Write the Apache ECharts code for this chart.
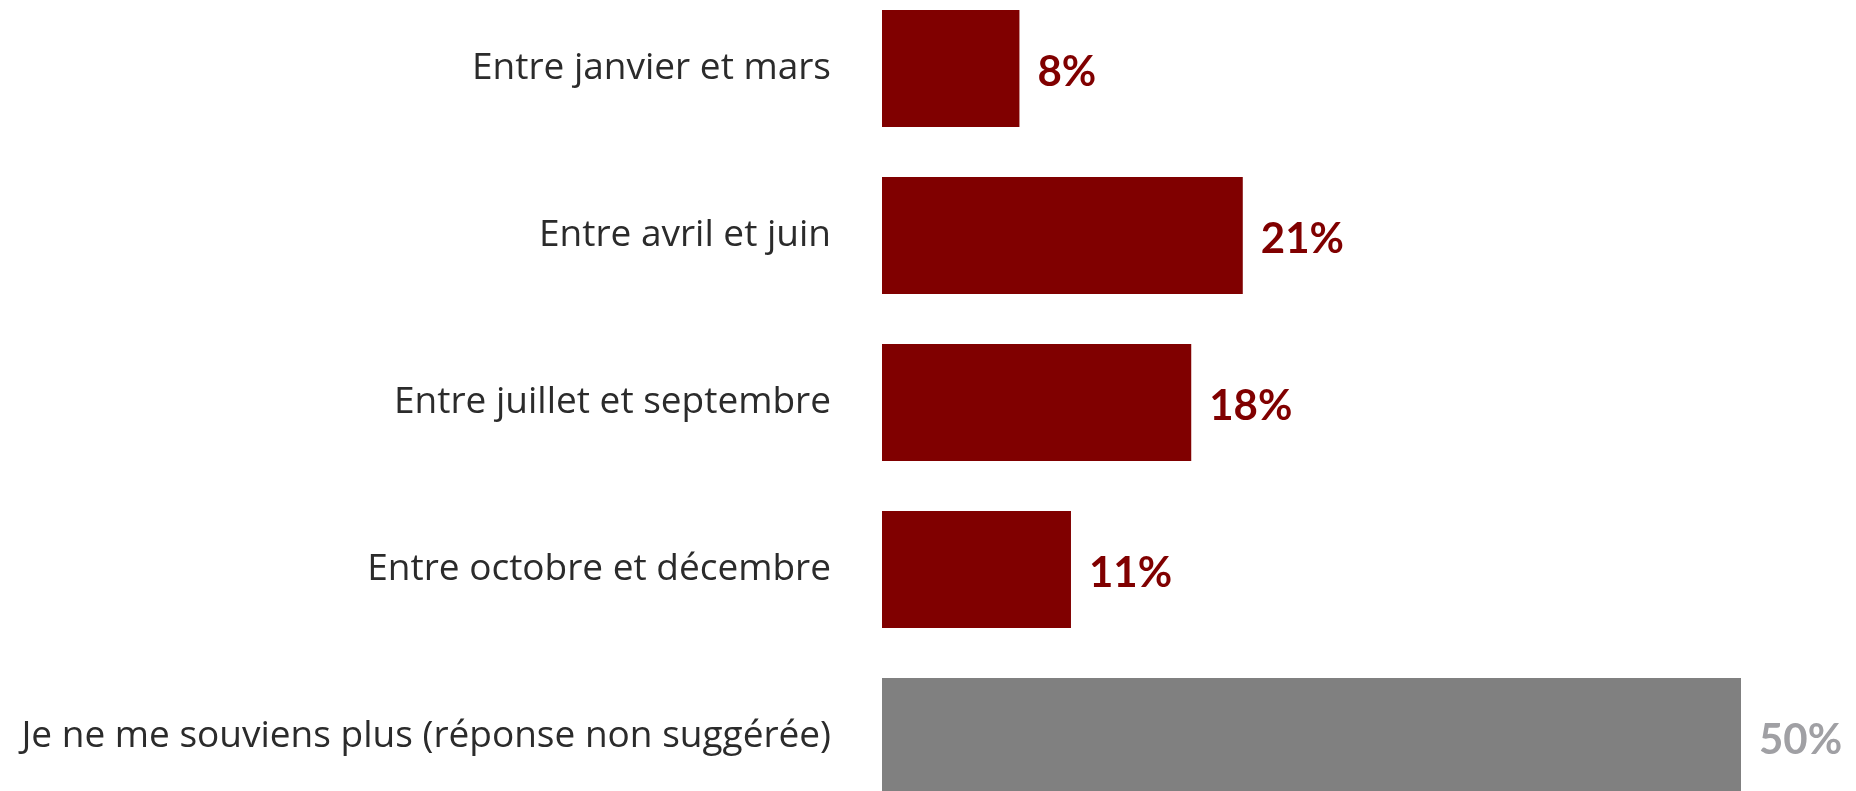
<!DOCTYPE html>
<html>
<head>
<meta charset="utf-8">
<script src="https://cdn.jsdelivr.net/npm/echarts@6/dist/echarts.min.js"></script>
<style>
  html, body { margin: 0; padding: 0; background: #fff; overflow: hidden; }
  /* la dernière barre est coupée en bas de l'image d'origine */
  #chart { position: absolute; left: 0; top: -15px; width: 1856px; height: 835px; }
</style>
</head>
<body>
<div id="chart"></div>
<script>
// périodes et pourcentages
const categories = [
  'Entre janvier et mars',
  'Entre avril et juin',
  'Entre juillet et septembre',
  'Entre octobre et décembre',
  'Je ne me souviens plus (réponse non suggérée)'
]
const values = [8, 21, 18, 11, 50]
const barColors = ['#800000', '#800000', '#800000', '#800000', '#808080']
const labelColors = ['#800000', '#800000', '#800000', '#800000', '#A0A0A4']

const chart = echarts.init(document.getElementById('chart'))

chart.setOption({
  backgroundColor: '#fff',
  animation: false,
  grid: {
    left: 882,
    right: 115,
    top: 0,
    bottom: 0,
    containLabel: false
  },
  xAxis: {
    type: 'value',
    min: 0,
    max: 50,
    show: false
  },
  yAxis: {
    type: 'category',
    inverse: true,
    data: categories,
    axisLine: { show: false },
    axisTick: { show: false },
    axisLabel: {
      margin: 51,
      fontFamily: 'Open Sans',
      fontSize: 37,
      color: '#2b2b2b',
      padding: [8, 0, 0, 0]
    }
  },
  series: [{
    type: 'bar',
    barWidth: 117,
    data: values.map((v, i) => ({
      value: v,
      itemStyle: { color: barColors[i] },
      label: { color: labelColors[i] }
    })),
    label: {
      show: true,
      position: 'right',
      distance: 18,
      offset: [0, 4],
      formatter: '{c}%',
      fontFamily: 'Lato',
      fontWeight: 'bold',
      fontSize: 42
    }
  }]
})
</script>
</body>
</html>
